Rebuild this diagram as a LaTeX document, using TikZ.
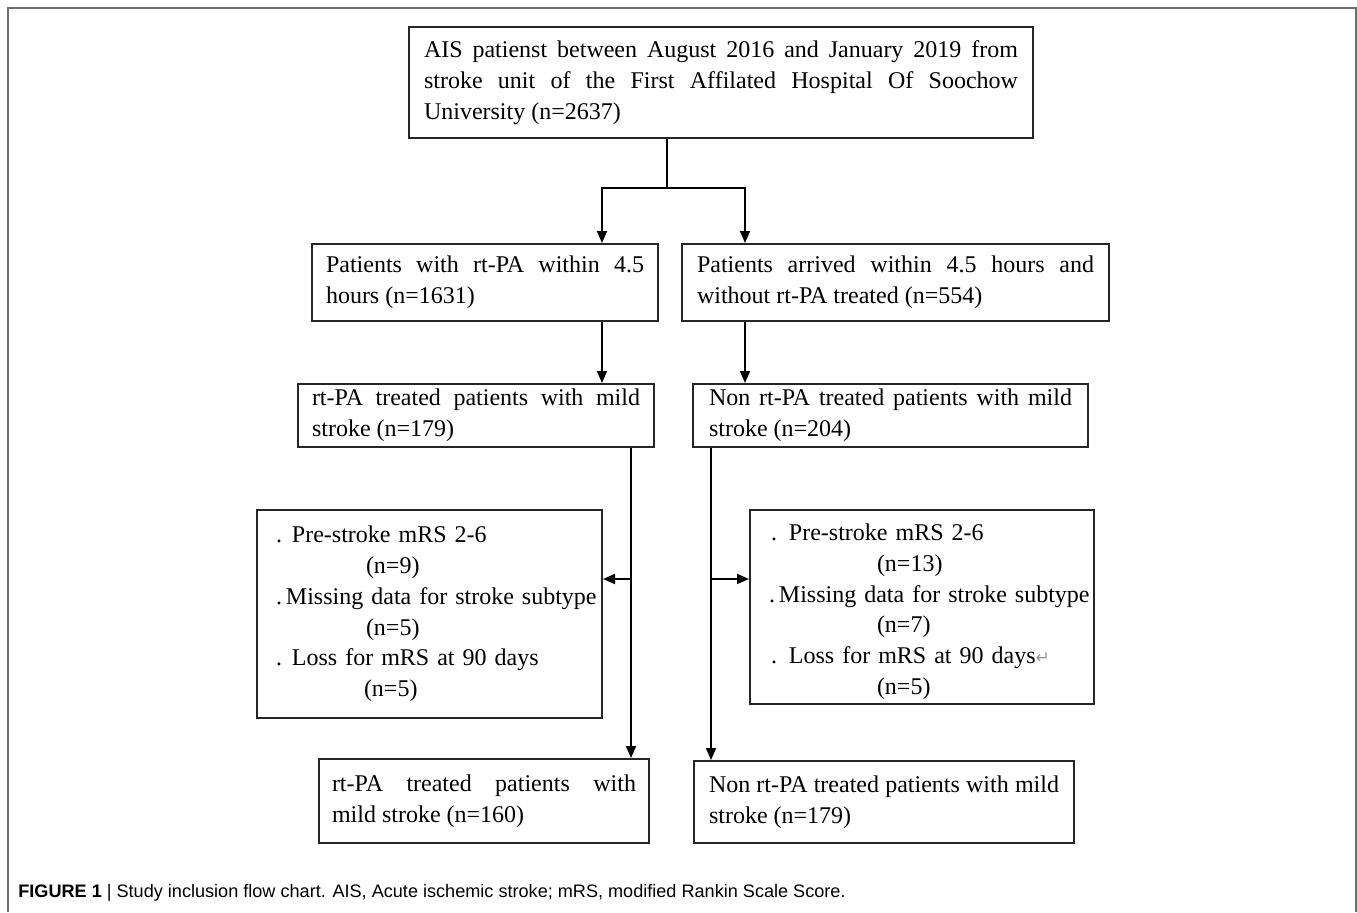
\documentclass[tikz,border=0pt]{standalone}
\usepackage{fontspec}
\setmainfont{Liberation Serif}
\newfontfamily\capfont{Liberation Sans}
\newfontfamily\symfont{DejaVu Sans}
\usepackage{xcolor}
\usetikzlibrary{arrows.meta}

\definecolor{framegray}{RGB}{110,110,110}
\definecolor{markgray}{RGB}{150,150,150}
\newcommand{\boxfont}{\fontsize{12}{15.5}\selectfont\hyphenpenalty=10000\exhyphenpenalty=10000}

\tikzset{
  flowbox/.style={draw=black!85, line width=1pt, anchor=north west, align=justify, inner ysep=2pt, font=\boxfont},
  exclbox/.style={draw=black!85, line width=1pt, anchor=north west, align=left, inner xsep=0pt, font=\fontsize{12}{15.4}\selectfont},
  flowline/.style={line width=0.9pt},
  flowarrow/.style={flowline, -{Triangle[width=5pt,length=6pt]}},
}

\begin{document}
\begin{tikzpicture}[x=0.5pt, y=-0.5pt]
    \useasboundingbox (0,0) rectangle (1357,912);
    % Frame
    \draw[framegray, line width=1pt] (8,912) -- (8,8) -- (1356,8) -- (1356,912);
    % Boxes
    \node[flowbox, text width=297pt, inner xsep=7.5pt, minimum height=55.5pt] (top) at (408,26)
        {AIS patienst between August 2016 and January 2019 from stroke unit of the First Affilated Hospital Of Soochow University (n=2637)};
    \node[flowbox, text width=159pt, inner xsep=7pt, minimum height=38.5pt] (b1L) at (311,243)
        {Patients with rt-PA within 4.5 hours (n=1631)};
    \node[flowbox, text width=198.5pt, inner xsep=7.5pt, minimum height=38.5pt] (b1R) at (681,243)
        {Patients arrived within 4.5 hours and without rt-PA treated (n=554)};
    \node[flowbox, text width=164pt, inner xsep=7pt, minimum height=31.5pt] (b2L) at (297,383)
        {rt-PA treated patients with mild stroke (n=179)};
    \node[flowbox, text width=181.5pt, inner xsep=8pt, minimum height=31.5pt] (b2R) at (692,383)
        {Non rt-PA treated patients with mild stroke (n=204)};
    \node[exclbox, text width=172.5pt, minimum height=104pt] (exL) at (256,509)
        {\hspace*{9.5pt}.\hspace*{5pt}Pre-stroke mRS 2-6\\
         \hspace*{54.5pt}(n=9)\\
         \hspace*{9.5pt}.\hspace*{2pt}Missing data for stroke subtype\\
         \hspace*{54.5pt}(n=5)\\
         \hspace*{9.5pt}.\hspace*{5pt}Loss for mRS at 90 days\\
         \hspace*{53.5pt}(n=5)};
    \node[exclbox, text width=172pt, inner ysep=0pt, minimum height=97pt] (exR) at (749,509)
        {\rule{0pt}{13pt}\hspace*{10.5pt}.\hspace*{6pt}Pre-stroke mRS 2-6\\
         \hspace*{63.5pt}(n=13)\\
         \hspace*{9.5pt}.\hspace*{2pt}Missing data for stroke subtype\\
         \hspace*{63.5pt}(n=7)\\
         \hspace*{10.5pt}.\hspace*{6pt}Loss for mRS at 90 days{\symfont\fontsize{8.5}{8}\selectfont\color{markgray}↵}\\
         \hspace*{63.5pt}(n=5)};
    \node[flowbox, text width=152pt, inner xsep=6.5pt, minimum height=42pt] (resL) at (318,758)
        {rt-PA treated patients with\linebreak mild stroke (n=160)};
    \node[flowbox, text width=175pt, inner xsep=7.5pt, minimum height=41pt] (resR) at (693,760)
        {Non rt-PA treated patients with mild stroke (n=179)};
    % Split
    \coordinate (split) at (667,188);
    \coordinate (splitL) at (602,188);
    \coordinate (splitR) at (745,188);
    \draw[flowline] (top.south -| split) -- (split);
    \draw[flowarrow] (split) -- (splitL) -- (splitL |- b1L.north);
    \draw[flowarrow] (split) -- (splitR) -- (splitR |- b1R.north);
    \draw[flowarrow] (b1L.south -| splitL) -- (b2L.north -| splitL);
    \draw[flowarrow] (b1R.south -| splitR) -- (b2R.north -| splitR);
    % Exclusions
    \coordinate (spineL) at (631,579);
    \coordinate (spineR) at (711,579);
    \draw[flowarrow] (b2L.south -| spineL) -- (resL.north -| spineL);
    \draw[flowarrow] (b2R.south -| spineR) -- (resR.north -| spineR);
    \draw[flowarrow] (spineL) -- (spineL -| exL.east);
    \draw[flowarrow] (spineR) -- (spineR -| exR.west);
    % Caption
    \node[anchor=base west, inner sep=0pt, font=\capfont\fontsize{9.05}{10}\selectfont] (caption) at (18,897)
        {\textbf{FIGURE 1} | Study inclusion flow chart. AIS, Acute ischemic stroke; mRS, modified Rankin Scale Score.};
\end{tikzpicture}
\end{document}
